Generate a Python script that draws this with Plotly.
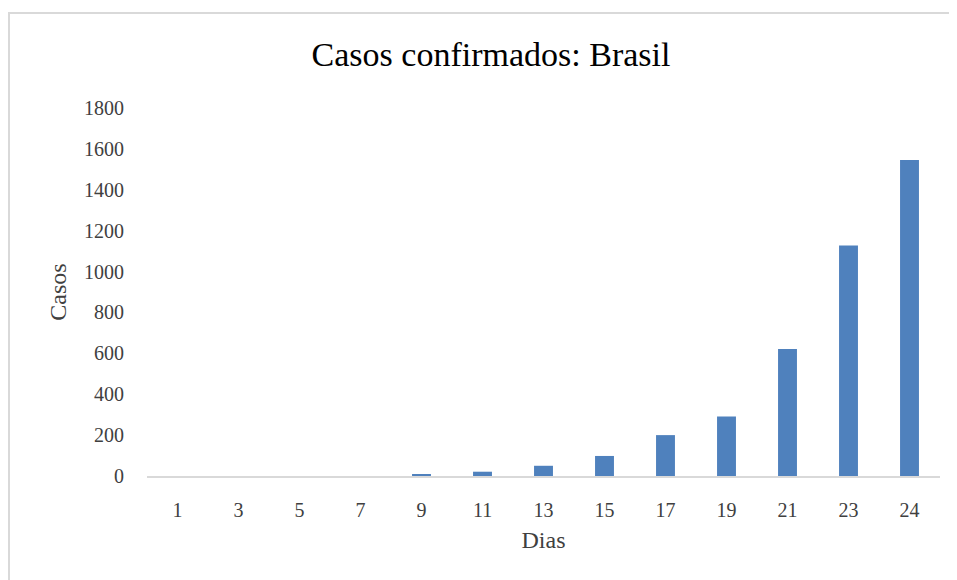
import plotly.graph_objects as go

dias = ["1", "3", "5", "7", "9", "11", "13", "15", "17", "19", "21", "23", "24"]
casos = [0, 0, 0, 0, 8, 21, 50, 98, 200, 291, 621, 1128, 1546]
y_ticks = [0, 200, 400, 600, 800, 1000, 1200, 1400, 1600, 1800]

FONT = "Liberation Serif"
OFF = 8  # page body margin
W, H = 957 - OFF, 580 - OFF
L, T = 147 - OFF, 108 - OFF
R = W - (940 - OFF)
B = H - (476 - OFF)
pw, ph = W - L - R, H - T - B

fig = go.Figure(go.Bar(x=dias, y=casos, marker=dict(color="#4F81BD", line=dict(width=0))))

fig.update_layout(
    width=W, height=H,
    margin=dict(l=L, r=R, t=T, b=B, autoexpand=False),
    paper_bgcolor="white", plot_bgcolor="white",
    bargap=0.69,
    showlegend=False,
    font=dict(family=FONT, color="#404040"),
    title=dict(text="Casos confirmados: Brasil", x=(491 - OFF) / W, xanchor="center",
               y=1 - (54 - OFF) / H, yanchor="middle",
               font=dict(family=FONT, size=34, color="#000000")),
    xaxis=dict(type="category", showgrid=False, zeroline=False,
               showline=True, linecolor="#d9d9d9", linewidth=1.5,
               ticks="outside", ticklen=15, tickcolor="rgba(0,0,0,0)",
               tickfont=dict(size=20, color="#404040"),
               title=dict(text="Dias", font=dict(size=24, color="#404040"), standoff=11)),
    yaxis=dict(range=[0, 1800], tickvals=y_ticks, showgrid=False, zeroline=False,
               showline=False, ticks="outside", ticklen=18, tickcolor="rgba(0,0,0,0)",
               tickfont=dict(size=20, color="#404040"),
               title=dict(text="Casos", font=dict(size=24, color="#404040"), standoff=10)),
    shapes=[dict(type="rect", xref="paper", yref="paper",
                 x0=(1 - L) / pw, x1=(W + 5 - L) / pw,
                 y0=-(B + 10) / ph, y1=(ph + T - 5) / ph,
                 line=dict(color="#d9d9d9", width=2), fillcolor="rgba(0,0,0,0)", layer="below")],
)

fig.write_html("out.html")
